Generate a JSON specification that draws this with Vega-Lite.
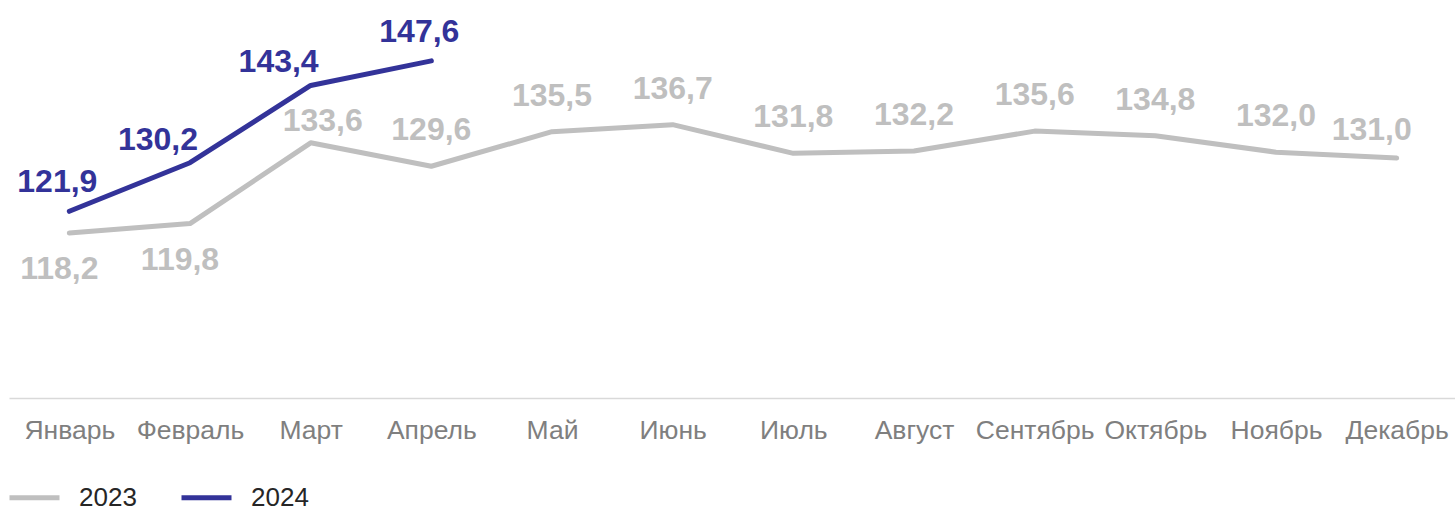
{
  "$schema": "https://vega.github.io/schema/vega-lite/v6.json",
  "width": 1448,
  "height": 398,
  "autosize": "none",
  "padding": {"left": 9, "top": 0, "right": 0, "bottom": 110},
  "config": {
    "view": {"stroke": null},
    "font": "Liberation Sans",
    "locale": {"number": {"decimal": ",", "thousands": " ", "grouping": [3], "currency": ["", " ₽"]}}
  },
  "data": {
    "values": [
      {"month": "Январь", "year": "2023", "value": 118.2},
      {"month": "Февраль", "year": "2023", "value": 119.8},
      {"month": "Март", "year": "2023", "value": 133.6},
      {"month": "Апрель", "year": "2023", "value": 129.6},
      {"month": "Май", "year": "2023", "value": 135.5},
      {"month": "Июнь", "year": "2023", "value": 136.7},
      {"month": "Июль", "year": "2023", "value": 131.8},
      {"month": "Август", "year": "2023", "value": 132.2},
      {"month": "Сентябрь", "year": "2023", "value": 135.6},
      {"month": "Октябрь", "year": "2023", "value": 134.8},
      {"month": "Ноябрь", "year": "2023", "value": 132.0},
      {"month": "Декабрь", "year": "2023", "value": 131.0},
      {"month": "Январь", "year": "2024", "value": 121.9},
      {"month": "Февраль", "year": "2024", "value": 130.2},
      {"month": "Март", "year": "2024", "value": 143.4},
      {"month": "Апрель", "year": "2024", "value": 147.6}
    ]
  },
  "encoding": {
    "x": {
      "field": "month",
      "type": "ordinal",
      "sort": ["Январь", "Февраль", "Март", "Апрель", "Май", "Июнь", "Июль", "Август", "Сентябрь", "Октябрь", "Ноябрь", "Декабрь"],
      "scale": {"type": "point", "padding": 0.5},
      "axis": {
        "title": null,
        "labelAngle": 0,
        "labelFontSize": 26.5,
        "labelColor": "#7f7f7f",
        "labelFont": "Liberation Sans",
        "labelPadding": 19,
        "labelOverlap": false,
        "ticks": false,
        "domainColor": "#d9d9d9",
        "domainWidth": 1.5,
        "grid": false
      }
    },
    "y": {
      "field": "value",
      "type": "quantitative",
      "scale": {"domain": [90, 158], "zero": false, "nice": false},
      "axis": null
    }
  },
  "layer": [
    {
      "mark": {"type": "line", "strokeWidth": 5, "strokeCap": "round", "strokeJoin": "round"},
      "encoding": {
        "color": {
          "field": "year",
          "type": "nominal",
          "scale": {"domain": ["2023", "2024"], "range": ["#bfbfbf", "#333399"]},
          "legend": {
            "title": null,
            "orient": "none",
            "legendX": -2,
            "legendY": 470,
            "direction": "horizontal",
            "symbolType": "stroke",
            "symbolSize": 2500,
            "symbolStrokeWidth": 5,
            "labelFontSize": 26,
            "labelColor": "#262626",
            "labelFont": "Liberation Sans",
            "labelOffset": 17,
            "columnPadding": 34
          }
        }
      }
    },
    {
      "transform": [{"filter": "datum.year == '2023' && (datum.month == 'Январь' || datum.month == 'Февраль')"}],
      "mark": {"type": "text", "fontSize": 32, "fontWeight": "bold", "color": "#bfbfbf", "baseline": "middle", "dy": 36, "dx": -10},
      "encoding": {"text": {"field": "value", "type": "quantitative", "format": ".1f"}}
    },
    {
      "transform": [{"filter": "datum.year == '2023' && datum.month != 'Январь' && datum.month != 'Февраль' && datum.month != 'Март' && datum.month != 'Декабрь'"}],
      "mark": {"type": "text", "fontSize": 32, "fontWeight": "bold", "color": "#bfbfbf", "baseline": "middle", "dy": -36},
      "encoding": {"text": {"field": "value", "type": "quantitative", "format": ".1f"}}
    },
    {
      "transform": [{"filter": "datum.year == '2023' && datum.month == 'Март'"}],
      "mark": {"type": "text", "fontSize": 32, "fontWeight": "bold", "color": "#bfbfbf", "baseline": "middle", "dy": -22, "dx": 12},
      "encoding": {"text": {"field": "value", "type": "quantitative", "format": ".1f"}}
    },
    {
      "transform": [{"filter": "datum.year == '2023' && datum.month == 'Декабрь'"}],
      "mark": {"type": "text", "fontSize": 32, "fontWeight": "bold", "color": "#bfbfbf", "baseline": "middle", "dy": -28, "dx": -25},
      "encoding": {"text": {"field": "value", "type": "quantitative", "format": ".1f"}}
    },
    {
      "transform": [{"filter": "datum.year == '2024' && (datum.month == 'Январь' || datum.month == 'Апрель')"}],
      "mark": {"type": "text", "fontSize": 32, "fontWeight": "bold", "color": "#333399", "baseline": "middle", "dy": -29, "dx": -12},
      "encoding": {"text": {"field": "value", "type": "quantitative", "format": ".1f"}}
    },
    {
      "transform": [{"filter": "datum.year == '2024' && (datum.month == 'Февраль' || datum.month == 'Март')"}],
      "mark": {"type": "text", "fontSize": 32, "fontWeight": "bold", "color": "#333399", "baseline": "middle", "align": "right", "dy": -23, "dx": 8},
      "encoding": {"text": {"field": "value", "type": "quantitative", "format": ".1f"}}
    }
  ]
}
